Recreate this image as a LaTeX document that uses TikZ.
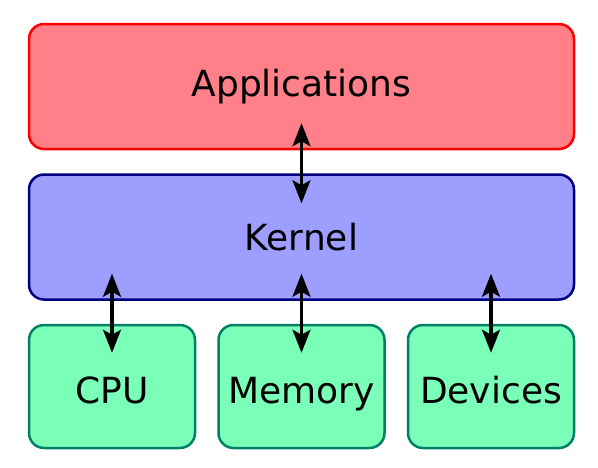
\documentclass[tikz,border=0pt]{standalone}
\usepackage{fontspec}
\setmainfont{DejaVu Sans}
\usepackage{tikz}
\usetikzlibrary{arrows.meta,positioning}

\definecolor{appred}{RGB}{255,128,136}
\definecolor{appedge}{RGB}{255,0,0}
\definecolor{kernelblue}{RGB}{157,158,255}
\definecolor{kerneledge}{RGB}{0,0,128}
\definecolor{hwgreen}{RGB}{122,255,185}
\definecolor{hwedge}{RGB}{0,128,102}

\begin{document}
\begin{tikzpicture}[x=1pt, y=1pt,
layer/.style={rectangle, draw, rounded corners=15pt, line width=2.5pt, align=center, minimum width=545pt, minimum height=125pt, inner sep=0pt, font=\fontsize{36}{43}\selectfont},
hw/.style={rectangle, draw=hwedge, fill=hwgreen, rounded corners=15pt, line width=2.5pt, align=center, minimum width=166pt, minimum height=123pt, inner sep=0pt, text height=33pt, text depth=0pt, font=\fontsize{36}{43}\selectfont},
arrow/.style={arrows={Stealth[length=23pt, width=18pt, inset=5pt]-Stealth[length=23pt, width=18pt, inset=5pt]}, line width=3.2pt}
]
\useasboundingbox (0,0) rectangle (598,-467);

% Layers
\node[layer, fill=appred, draw=appedge] (apps) at (301.5,-86.5) {Applications};
\node[layer, fill=kernelblue, draw=kerneledge, below=23pt of apps] (kernel) {Kernel};

% Hardware
\node[hw, below right=23pt and 0pt of kernel.south west] (cpu) {CPU};
\node[hw, right=21pt of cpu] (memory) {Memory};
\node[hw, right=21pt of memory] (devices) {Devices};

% Connections
\draw[arrow] ([yshift=27pt]apps.south) -- ([yshift=-30pt]kernel.north);
\draw[arrow] ([yshift=27pt]kernel.south -| cpu.north) -- ([yshift=-29pt]cpu.north);
\draw[arrow] ([yshift=27pt]kernel.south -| memory.north) -- ([yshift=-29pt]memory.north);
\draw[arrow] ([yshift=27pt]kernel.south -| devices.north) -- ([yshift=-29pt]devices.north);

\end{tikzpicture}
\end{document}
